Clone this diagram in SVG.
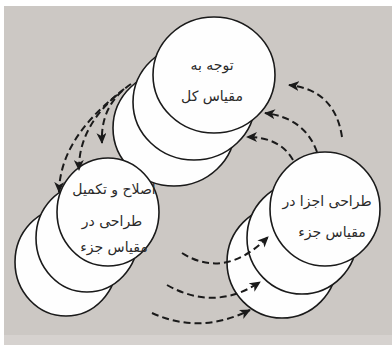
<svg xmlns="http://www.w3.org/2000/svg" width="392" height="345" viewBox="0 0 392 345">
<style>
.c{fill:#fefefe;stroke:#1a1a1a;stroke-width:1.6}
.t{font-family:"DejaVu Sans",sans-serif;font-size:14px;fill:#2a2a2a;text-anchor:middle}
.d{fill:none;stroke:#1a1a1a;stroke-width:2;stroke-dasharray:7 4}
</style>
<defs>
<marker id="ah" markerUnits="userSpaceOnUse" markerWidth="12" markerHeight="10" refX="10" refY="5" orient="auto">
<path d="M0,0 L11,5 L0,10 L3,5 z" fill="#1a1a1a"/>
</marker>
</defs>
<rect width="392" height="345" fill="#ffffff"/>
<rect x="4" y="6" width="388" height="339" fill="#ccc8c4"/>
<rect x="4" y="335" width="388" height="10" fill="#d6d2cf"/>
<g id="top">
<ellipse class="c" cx="174" cy="128" rx="61" ry="58"/>
<ellipse class="c" cx="194" cy="102" rx="61" ry="58"/>
<ellipse class="c" cx="214" cy="75" rx="61" ry="58"/>
<text class="t" x="212" y="70" direction="rtl">توجه به</text>
<text class="t" x="212" y="101" direction="rtl">مقیاس کل</text>
</g>
<g id="left">
<ellipse class="c" cx="66" cy="262" rx="51" ry="54"/>
<ellipse class="c" cx="87" cy="238" rx="51" ry="54"/>
<ellipse class="c" cx="108" cy="212" rx="51" ry="54"/>
<text class="t" x="114" y="194" direction="rtl">اصلاح و تکمیل</text>
<text class="t" x="112" y="226" direction="rtl">طراحی در</text>
<text class="t" x="114" y="252" direction="rtl">مقیاس جزء</text>
</g>
<g id="right">
<ellipse class="c" cx="282" cy="262" rx="55" ry="56"/>
<ellipse class="c" cx="302" cy="238" rx="55" ry="56"/>
<ellipse class="c" cx="325" cy="209" rx="55" ry="57"/>
<text class="t" x="327" y="206" direction="rtl">طراحی اجزا در</text>
<text class="t" x="332" y="237" direction="rtl">مقیاس جزء</text>
</g>
<g id="connectors">
<path class="d" d="M342,137 Q335,90 289,85" marker-end="url(#ah)"/>
<path class="d" d="M317,152 Q305,118 265,113" marker-end="url(#ah)"/>
<path class="d" d="M293,160 Q280,137 247,137" marker-end="url(#ah)"/>
<path class="d" d="M131,84 Q100,105 102,143" marker-end="url(#ah)"/>
<path class="d" d="M124,89 Q78,125 79,170" marker-end="url(#ah)"/>
<path class="d" d="M117,95 Q60,140 59,192" marker-end="url(#ah)"/>
<path class="d" d="M182,253 Q225,280 268,237" marker-end="url(#ah)"/>
<path class="d" d="M167,285 Q215,312 260,282" marker-end="url(#ah)"/>
<path class="d" d="M152,313 Q200,335 250,310" marker-end="url(#ah)"/>
</g>
</svg>
